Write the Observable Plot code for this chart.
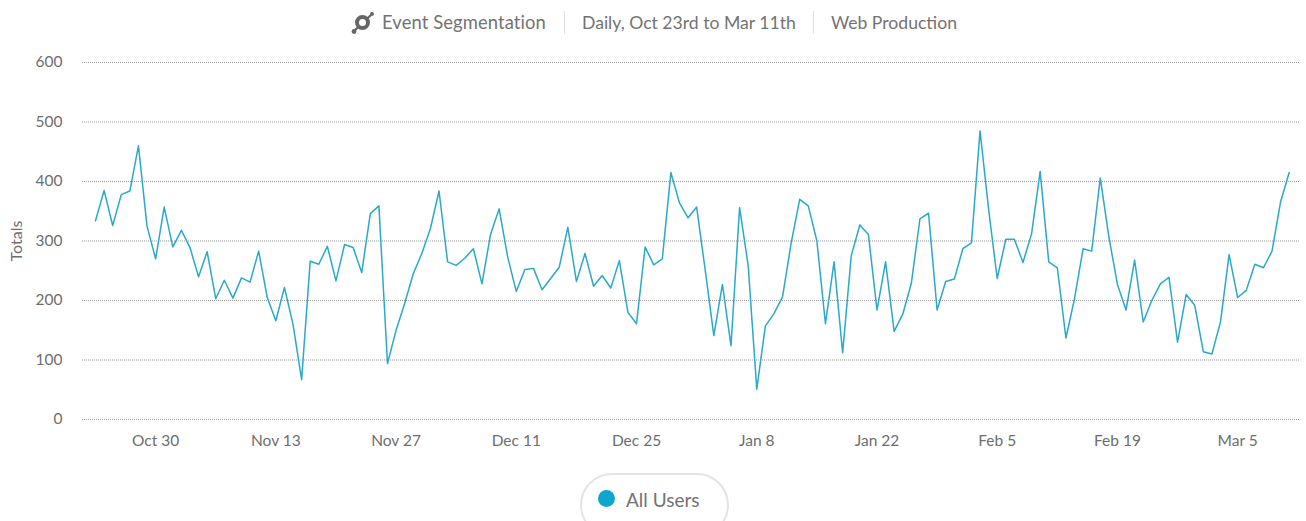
<!DOCTYPE html>
<html>
<head>
<meta charset="utf-8">
<script src="https://cdn.jsdelivr.net/npm/d3@7"></script>
<script src="https://cdn.jsdelivr.net/npm/@observablehq/plot@0.6"></script>
<style>
html,body{margin:0;padding:0;background:#fff;width:1306px;height:521px;overflow:hidden;font-family:Lato,sans-serif;color:#737373}
#head{position:relative;height:40px}
#head span{position:absolute;top:12px;font-size:17.6px;line-height:21px;white-space:nowrap}
#head i{position:absolute;top:11px;height:23px;width:1px;background:#e2e2e2}
#head svg{position:absolute;left:351px;top:11px}
#chart{height:420px}
#chart svg{display:block}
#legend{position:relative;height:61px;overflow:hidden}
#pill{position:absolute;left:580px;top:13px;width:145px;height:60px;border:2px solid #e4e4e4;border-radius:32px;box-sizing:content-box}
#dot{position:absolute;left:598px;top:30px;width:17px;height:17px;border-radius:50%;background:#0ea5d0}
#lab{position:absolute;left:626px;top:29px;font-size:19px;line-height:22px;color:#737373}
</style>
</head>
<body>
<div id="head">
<svg width="24" height="24" viewBox="0 0 24 24">
<line x1="2" y1="21" x2="20" y2="4" stroke="#666" stroke-width="2.4"/>
<circle cx="11.5" cy="11.5" r="5.5" fill="#fff" stroke="#666" stroke-width="4"/>
<circle cx="21" cy="3" r="2" fill="#666"/><circle cx="3" cy="20.5" r="2.4" fill="#666"/>
</svg>
<span style="left:382px;font-size:18.4px;letter-spacing:0.1px">Event Segmentation</span><i style="left:564px"></i>
<span style="left:582px">Daily, Oct 23rd to Mar 11th</span><i style="left:813px"></i>
<span style="left:831px">Web Production</span>
</div>
<div id="chart"></div>
<div id="legend"><div id="pill"></div><div id="dot"></div><div id="lab">All Users</div></div>
<script>
const startDay = "2016-10-23";
const endDay = "2017-03-11";
const totals = [334,385,326,378,384,460,325,270,357,290,318,289,240,282,203,234,204,238,231,283,
205,166,222,160,67,266,261,291,233,294,289,247,346,359,94,150,195,245,279,321,
384,265,259,271,287,228,311,354,273,215,252,254,218,237,256,323,232,279,224,242,
221,267,180,161,290,260,270,415,364,339,357,251,141,227,124,356,259,51,157,178,
206,296,370,359,300,161,265,112,275,327,311,184,265,148,177,229,337,347,184,232,
236,287,297,485,353,237,303,303,264,312,417,265,255,137,203,287,283,406,307,227,
184,268,164,200,228,239,130,210,192,114,110,164,277,205,217,261,255,283,366,415];
const yTicks = [0,100,200,300,400,500,600];
const xTickDays = ["2016-10-30","2016-11-13","2016-11-27","2016-12-11","2016-12-25","2017-01-08","2017-01-22","2017-02-05","2017-02-19","2017-03-05"];
const seriesName = "All Users";
const yTitle = "Totals";

const parse = d3.utcParse("%Y-%m-%d");
const first = parse(startDay);
const rows = totals.map((v,i)=>({date:d3.utcDay.offset(first,i),value:v}));
const grey = "#6e6e6e";
const plot = Plot.plot({
  width:1306,height:420,
  marginLeft:82,marginRight:6,marginTop:22,marginBottom:41,
  style:{fontFamily:"Lato,sans-serif",fontSize:"15.5px",color:grey,background:"#fff"},
  x:{type:"utc",domain:[first,parse(endDay)],range:[95,1288.7]},
  y:{domain:[0,600]},
  marks:[
    Plot.ruleY(yTicks,{stroke:"#9a9a9a",strokeWidth:1,strokeDasharray:"1 1",strokeOpacity:1}),
    Plot.axisY(yTicks,{tickSize:0,tickPadding:20,label:null,fontSize:15.5,fill:grey,tickFormat:d=>d}),
    Plot.text([yTitle],{frameAnchor:"left",textAnchor:"middle",dx:-66,rotate:-90,fontSize:16,fill:grey}),
    Plot.axisX(xTickDays.map(parse),{tickSize:0,tickPadding:15,label:null,fontSize:15.5,fill:grey,tickFormat:d3.utcFormat("%b %-d")}),
    Plot.line(rows,{x:"date",y:"value",stroke:"#2aa9c9",strokeWidth:1.5,curve:"linear"})
  ]
});
document.getElementById("chart").appendChild(plot);
document.getElementById("lab").textContent = seriesName;
</script>
</body>
</html>
